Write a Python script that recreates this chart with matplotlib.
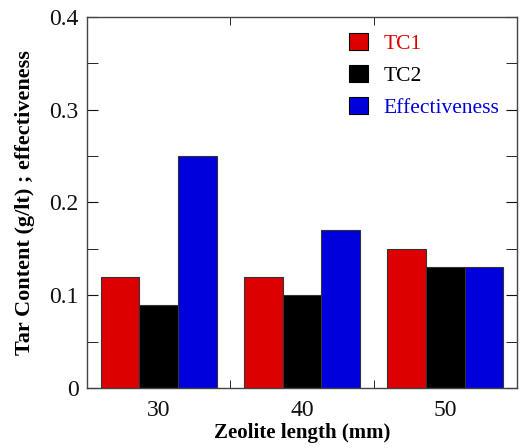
import matplotlib.pyplot as plt
import numpy as np
from matplotlib.ticker import MultipleLocator, FixedLocator

plt.rcParams['font.family'] = ['Liberation Serif', 'DejaVu Serif']

# data
lengths = ["30", "40", "50"]
tc1 = [0.12, 0.12, 0.15]
tc2 = [0.09, 0.10, 0.13]
effectiveness = [0.25, 0.17, 0.13]

series = [
    ("TC1", tc1, "#dd0000"),
    ("TC2", tc2, "#000000"),
    ("Effectiveness", effectiveness, "#0000dd"),
]

fig = plt.figure(figsize=(5.21, 4.48), dpi=100)
ax = fig.add_axes([0.167, 0.134, 0.825, 0.828])

x = np.arange(len(lengths))
w = 0.27
for i, (name, vals, col) in enumerate(series):
    ax.bar(x + (i - 1) * w, vals, width=w, color=col, edgecolor="#333333",
           linewidth=0.8, label=name)

ax.set_xlim(-0.5, 2.5)
ax.set_ylim(0, 0.4)

ax.set_xticks(x)
ax.set_xticklabels(lengths)
ax.xaxis.set_minor_locator(FixedLocator([0.5, 1.5]))
ax.tick_params(axis="x", which="major", length=0, pad=9)
ax.tick_params(axis="x", which="minor", direction="in", length=6, top=True)

ax.set_yticks([0, 0.1, 0.2, 0.3, 0.4])
ax.set_yticklabels(["0", "0.1", "0.2", "0.3", "0.4"])
ax.yaxis.set_minor_locator(MultipleLocator(0.05))
ax.tick_params(axis="y", which="both", direction="in", right=True, length=8,
               pad=6)
ax.tick_params(axis="both", labelsize=17, colors="#111111")

for s in ax.spines.values():
    s.set_color("#444444")
    s.set_linewidth(1.0)

ax.set_xlabel("Zeolite length (mm)", fontsize=15, fontweight="bold",
              labelpad=1)
ax.set_ylabel("Tar Content (g/lt) ; effectiveness", fontsize=16,
              fontweight="bold", labelpad=10)

leg = ax.legend(loc="upper right", bbox_to_anchor=(1.005, 1.01),
                frameon=False, fontsize=15.5, handlelength=0.85,
                handleheight=0.85, labelspacing=0.52, handletextpad=0.75)
for t, (_, _, col) in zip(leg.get_texts(), series):
    t.set_color(col)
for h in leg.legend_handles:
    h.set_edgecolor("black")

fig.savefig("out.png", dpi=100)
